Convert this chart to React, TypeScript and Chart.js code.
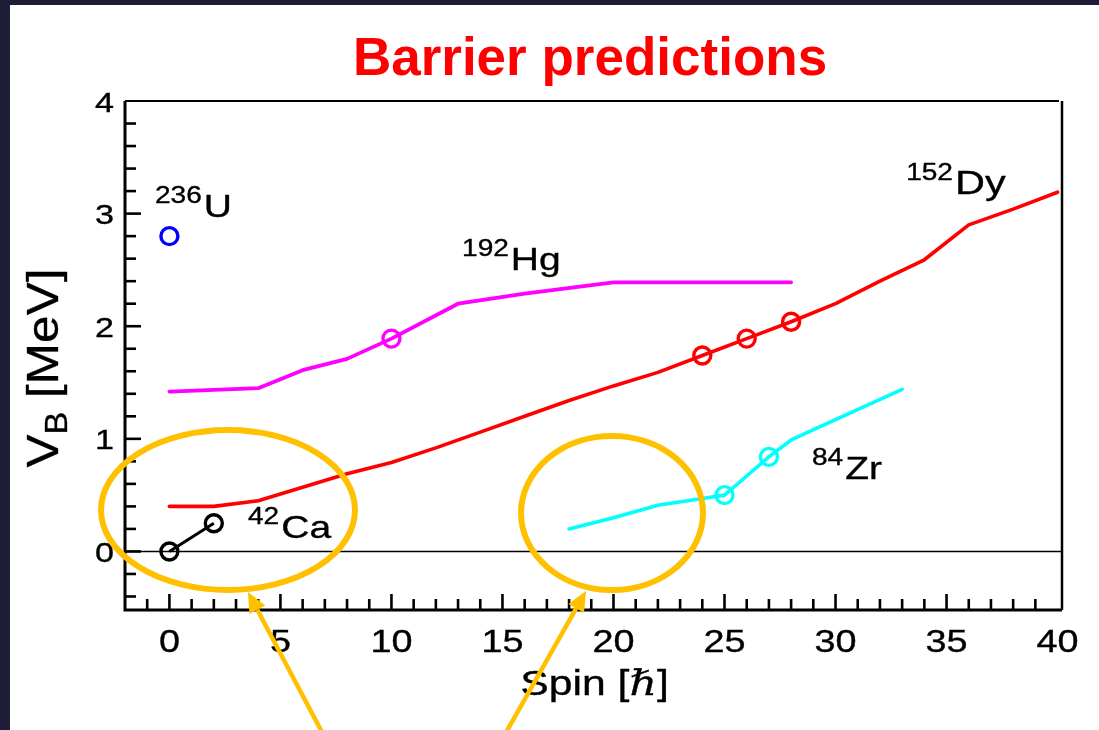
import React, { useEffect, useRef } from "react";
import { Chart, registerables } from "chart.js";

Chart.register(...registerables);

const W = 1099;
const H = 730;

// ---- data ----
const spinDy = [0, 2, 4, 6, 8, 10, 12, 14, 16, 18, 20, 22, 24, 26, 28, 30, 32, 34, 36, 38, 40];
const barrierDy = [0.4, 0.4, 0.45, 0.57, 0.69, 0.79, 0.92, 1.06, 1.2, 1.34, 1.47, 1.59, 1.74, 1.89, 2.04, 2.2, 2.4, 2.59, 2.9, 3.04, 3.19];
const spinDyMarks = [24, 26, 28];
const barrierDyMarks = [1.74, 1.89, 2.04];

const spinHg = [0, 4, 6, 8, 10, 13, 16, 20, 28];
const barrierHg = [1.42, 1.45, 1.61, 1.71, 1.89, 2.2, 2.29, 2.39, 2.39];
const spinHgMarks = [10];
const barrierHgMarks = [1.89];

const spinZr = [18, 20, 22, 24, 25, 26, 27, 28, 30, 33];
const barrierZr = [0.2, 0.3, 0.41, 0.47, 0.5, 0.67, 0.84, 0.99, 1.17, 1.44];
const spinZrMarks = [25, 27];
const barrierZrMarks = [0.5, 0.84];

const spinCa = [0, 2];
const barrierCa = [0, 0.25];

const spinU = [0];
const barrierU = [2.8];

const xTickLabels = [0, 5, 10, 15, 20, 25, 30, 35, 40];
const yTickLabels = [0, 1, 2, 3, 4];

// nucleus labels: mass number, symbol, position (spin, barrier) of text start / baseline
const nucleusLabels = [
  { mass: "236", symbol: "U", x: -0.65, y: 2.97, size: 32 },
  { mass: "192", symbol: "Hg", x: 13.18, y: 2.5, size: 32 },
  { mass: "152", symbol: "Dy", x: 33.18, y: 3.17, size: 34 },
  { mass: "84", symbol: "Zr", x: 28.94, y: 0.64, size: 32 },
  { mass: "42", symbol: "Ca", x: 3.54, y: 0.12, size: 32 },
];

const SANS = "'Liberation Sans', Arial, Helvetica, sans-serif";
const SX = 1.22; // horizontal stretch of figure text
const TEXT_STROKE = 0.35;

const pts = (xs: number[], ys: number[]) => xs.map((x, i) => ({ x, y: ys[i] }));

function drawStretched(
  ctx: CanvasRenderingContext2D,
  text: string,
  x: number,
  y: number,
  font: string,
  align: "left" | "center" | "right",
  sx: number
) {
  ctx.save();
  ctx.font = font;
  ctx.textBaseline = "alphabetic";
  ctx.textAlign = "left";
  const w = ctx.measureText(text).width * sx;
  let x0 = x;
  if (align === "center") x0 = x - w / 2;
  else if (align === "right") x0 = x - w;
  ctx.translate(x0, y);
  ctx.scale(sx, 1);
  ctx.fillText(text, 0, 0);
  ctx.strokeStyle = ctx.fillStyle as string;
  ctx.lineWidth = TEXT_STROKE;
  ctx.strokeText(text, 0, 0);
  ctx.restore();
  return w;
}

function drawArrow(ctx: CanvasRenderingContext2D, x0: number, y0: number, x1: number, y1: number) {
  const ang = Math.atan2(y1 - y0, x1 - x0);
  const headLen = 20;
  const headW = 9;
  const bx = x1 - headLen * Math.cos(ang);
  const by = y1 - headLen * Math.sin(ang);
  ctx.beginPath();
  ctx.moveTo(x0, y0);
  ctx.lineTo(bx, by);
  ctx.stroke();
  ctx.beginPath();
  ctx.moveTo(x1, y1);
  ctx.lineTo(bx + headW * Math.sin(ang), by - headW * Math.cos(ang));
  ctx.lineTo(bx - headW * Math.sin(ang), by + headW * Math.cos(ang));
  ctx.closePath();
  ctx.fill();
}

const overlayPlugin = {
  id: "slideOverlay",
  beforeDraw(chart: any) {
    const ctx: CanvasRenderingContext2D = chart.ctx;
    ctx.save();
    ctx.fillStyle = "#1d1e36";
    ctx.fillRect(0, 0, W, H);
    ctx.fillStyle = "#ffffff";
    ctx.fillRect(10, 5, W - 10, H - 5);
    ctx.restore();
  },
  beforeDatasetsDraw(chart: any) {
    const ctx: CanvasRenderingContext2D = chart.ctx;
    const xs = chart.scales.x;
    const ys = chart.scales.y;
    const { left, right, top, bottom } = chart.chartArea;
    ctx.save();
    ctx.strokeStyle = "#000";
    ctx.lineCap = "butt";

    // zero line
    ctx.lineWidth = 1.5;
    const y0 = ys.getPixelForValue(0);
    ctx.beginPath();
    ctx.moveTo(left, y0);
    ctx.lineTo(right, y0);
    ctx.stroke();

    // frame
    ctx.lineWidth = 3;
    ctx.beginPath();
    ctx.moveTo(left, top);
    ctx.lineTo(left, bottom);
    ctx.lineTo(right, bottom);
    ctx.stroke();
    ctx.lineWidth = 2;
    ctx.beginPath();
    ctx.moveTo(left, top);
    ctx.lineTo(right - 3, top);
    ctx.stroke();
    ctx.lineWidth = 2.5;
    ctx.beginPath();
    ctx.moveTo(right, top);
    ctx.lineTo(right, bottom);
    ctx.stroke();

    // inward ticks
    ctx.lineWidth = 2.6;
    for (let v = -1; v <= 39; v++) {
      const px = xs.getPixelForValue(v);
      const len = v % 5 === 0 ? 16 : 11;
      ctx.beginPath();
      ctx.moveTo(px, bottom);
      ctx.lineTo(px, bottom - len);
      ctx.stroke();
    }
    for (let k = -2; k <= 19; k++) {
      const py = ys.getPixelForValue(k * 0.2);
      const len = k % 5 === 0 ? 16 : 11;
      ctx.beginPath();
      ctx.moveTo(left, py);
      ctx.lineTo(left + len, py);
      ctx.stroke();
    }

    // tick labels
    ctx.fillStyle = "#000";
    for (const v of xTickLabels) {
      drawStretched(ctx, String(v), xs.getPixelForValue(v), bottom + 42, `31px ${SANS}`, "center", SX);
    }
    for (const v of yTickLabels) {
      drawStretched(ctx, String(v), left - 11, ys.getPixelForValue(v) + 10.5, `28px ${SANS}`, "right", SX);
    }

    // x axis title "Spin [ħ]"
    {
      const font = `35px ${SANS}`;
      const hfont = `italic 35px 'DejaVu Serif', 'Liberation Serif', serif`;
      ctx.font = font;
      const w1 = ctx.measureText("Spin [").width;
      const w3 = ctx.measureText("]").width;
      ctx.font = hfont;
      const w2 = ctx.measureText("\u210F").width;
      const total = (w1 + w2 + w3) * SX;
      let x = (left + right) / 2 - total / 2 + 1;
      const yb = 695;
      x += drawStretched(ctx, "Spin [", x, yb, font, "left", SX);
      x += drawStretched(ctx, "\u210F", x, yb, hfont, "left", SX);
      drawStretched(ctx, "]", x, yb, font, "left", SX);
    }

    // y axis title "V_B [MeV]" rotated
    {
      const f = 45;
      const LX = 1.1;
      const font = `${f}px ${SANS}`;
      const sfont = `${Math.round(f * 0.7)}px ${SANS}`;
      ctx.font = font;
      const wV = ctx.measureText("V").width;
      const wR = ctx.measureText(" [MeV]").width;
      ctx.font = sfont;
      const wB = ctx.measureText("B").width;
      const total = wV + wB + wR;
      ctx.save();
      ctx.translate(58, 368);
      ctx.rotate(-Math.PI / 2);
      ctx.scale(LX, 1.0);
      ctx.textBaseline = "alphabetic";
      ctx.textAlign = "left";
      ctx.strokeStyle = "#000";
      ctx.lineWidth = TEXT_STROKE;
      let x = -total / 2;
      ctx.font = font;
      ctx.fillText("V", x, 0);
      ctx.strokeText("V", x, 0);
      x += wV;
      ctx.font = sfont;
      ctx.fillText("B", x, 9);
      ctx.strokeText("B", x, 9);
      x += wB;
      ctx.font = font;
      ctx.fillText(" [MeV]", x, 0);
      ctx.strokeText(" [MeV]", x, 0);
      ctx.restore();
    }

    // nucleus labels
    for (const lab of nucleusLabels) {
      const px = xs.getPixelForValue(lab.x);
      const py = ys.getPixelForValue(lab.y);
      const w = drawStretched(ctx, lab.mass, px, py - 14, `23px ${SANS}`, "left", SX);
      drawStretched(ctx, lab.symbol, px + w + 2, py, `${lab.size}px ${SANS}`, "left", SX);
    }

    // slide title
    ctx.fillStyle = "#ff0000";
    ctx.font = `bold 53px ${SANS}`;
    ctx.textAlign = "center";
    ctx.textBaseline = "alphabetic";
    ctx.fillText("Barrier predictions", 590, 75);
    ctx.restore();
  },
  afterDraw(chart: any) {
    const ctx: CanvasRenderingContext2D = chart.ctx;
    ctx.save();
    ctx.strokeStyle = "#FFC000";
    ctx.fillStyle = "#FFC000";
    ctx.lineWidth = 6;
    ctx.beginPath();
    ctx.ellipse(228, 510, 127, 80, 0, 0, Math.PI * 2);
    ctx.stroke();
    ctx.beginPath();
    ctx.ellipse(612, 513, 91, 77, 0, 0, Math.PI * 2);
    ctx.stroke();
    ctx.lineWidth = 4.5;
    drawArrow(ctx, 324, 736, 248, 592);
    drawArrow(ctx, 504, 736, 586, 591);
    ctx.restore();
  },
};

const lineDs = (label: string, xs: number[], ys: number[], color: string, width: number) => ({
  label,
  data: pts(xs, ys),
  showLine: true,
  borderColor: color,
  borderWidth: width,
  borderJoinStyle: "round",
  borderCapStyle: "round",
  pointRadius: 0,
  fill: false,
  tension: 0,
});

const markDs = (label: string, xs: number[], ys: number[], color: string) => ({
  label,
  data: pts(xs, ys),
  showLine: false,
  pointRadius: 8.5,
  pointBorderWidth: 3.4,
  pointBorderColor: color,
  pointBackgroundColor: "rgba(0,0,0,0)",
  borderColor: color,
  backgroundColor: "rgba(0,0,0,0)",
});

export default function App() {
  const ref = useRef<HTMLCanvasElement | null>(null);

  useEffect(() => {
    document.body.style.margin = "0";
    const canvas = ref.current;
    if (!canvas) return;
    const chart = new Chart(canvas, {
      type: "scatter",
      data: {
        datasets: [
          markDs("152Dy marks", spinDyMarks, barrierDyMarks, "#ff0000"),
          markDs("192Hg marks", spinHgMarks, barrierHgMarks, "#ff00ff"),
          markDs("84Zr marks", spinZrMarks, barrierZrMarks, "#00ffff"),
          markDs("236U", spinU, barrierU, "#0000ff"),
          { ...markDs("42Ca", spinCa, barrierCa, "#000000"), showLine: true, borderWidth: 3 },
          lineDs("152Dy", spinDy, barrierDy, "#ff0000", 3.6),
          lineDs("192Hg", spinHg, barrierHg, "#ff00ff", 3.8),
          lineDs("84Zr", spinZr, barrierZr, "#00ffff", 3.6),
        ] as any,
      },
      options: {
        animation: false,
        responsive: false,
        devicePixelRatio: 1,
        events: [],
        layout: { padding: { left: 0, top: 101, right: 37, bottom: 0 } },
        plugins: {
          legend: { display: false },
          tooltip: { enabled: false },
          title: { display: false },
        },
        scales: {
          x: {
            type: "linear",
            min: -2,
            max: 40.2,
            ticks: { display: false },
            grid: { display: false, drawTicks: false },
            border: { display: false },
            afterFit: (s: any) => {
              s.height = 120;
            },
          },
          y: {
            type: "linear",
            min: -0.52,
            max: 4,
            ticks: { display: false },
            grid: { display: false, drawTicks: false },
            border: { display: false },
            afterFit: (s: any) => {
              s.width = 125;
            },
          },
        },
      } as any,
      plugins: [overlayPlugin],
    });
    return () => chart.destroy();
  }, []);

  return (
    <div style={{ position: "fixed", left: 0, top: 0, width: W, height: H }}>
      <canvas ref={ref} width={W} height={H} style={{ display: "block", width: W, height: H }} />
    </div>
  );
}
